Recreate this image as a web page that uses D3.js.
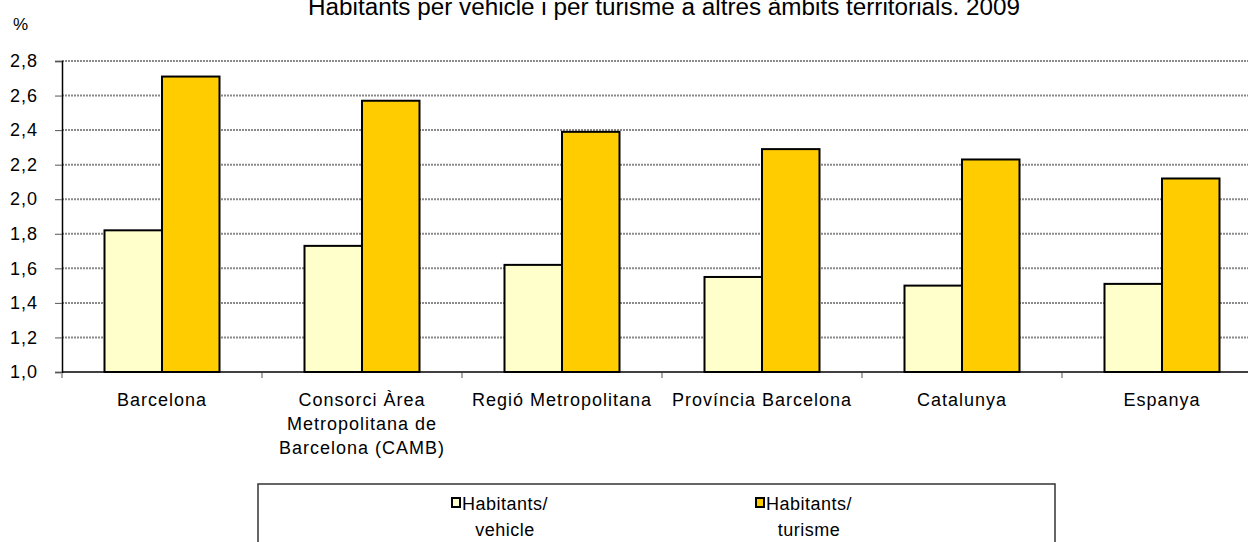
<!DOCTYPE html>
<html>
<head>
<meta charset="utf-8">
<script src="https://cdn.jsdelivr.net/npm/d3@7"></script>
<style>
  body { margin: 0; background: #fff; }
  svg { display: block; font-family: "Liberation Sans", Arial, sans-serif; }
</style>
</head>
<body>
<svg id="chart" width="1248" height="542"></svg>
<script>
var categories = ['Barcelona', 'Consorci Àrea Metropolitana de Barcelona (CAMB)', 'Regió Metropolitana',
  'Província Barcelona', 'Catalunya', 'Espanya'];
var seriesNames = ['Habitants/ vehicle', 'Habitants/ turisme'];
var perVehicle = [1.82, 1.73, 1.62, 1.55, 1.50, 1.51];
var perTurisme = [2.71, 2.57, 2.39, 2.29, 2.23, 2.12];
var yTicks = [1.0, 1.2, 1.4, 1.6, 1.8, 2.0, 2.2, 2.4, 2.6, 2.8];
var colors = ['#FFFFCC', '#FFCC00'];

var svg = d3.select('#chart');
var plotLeft = 62, plotRight = 1262, plotTop = 61, plotBottom = 372;

var x = d3.scaleBand().domain(categories).range([plotLeft, plotRight]).paddingInner(0.425).paddingOuter(0.2125);
var x1 = d3.scaleBand().domain([0, 1]).range([0, x.bandwidth()]);
var y = d3.scaleLinear().domain([1, 2.8]).range([plotBottom, plotTop]);
var fmt = function(v) { return d3.format('.1f')(v).replace('.', ','); };

// title and unit
svg.append('text').attr('x', 308).attr('y', 15).attr('font-size', 23).attr('textLength', 712)
  .attr('lengthAdjust', 'spacingAndGlyphs').attr('fill', '#000')
  .text('Habitants per vehicle i per turisme a altres àmbits territorials. 2009');
svg.append('text').attr('x', 13).attr('y', 30).attr('font-size', 17).text('%');

// grid
svg.append('g').selectAll('line').data(yTicks.slice(1)).enter().append('line')
  .attr('x1', plotLeft).attr('x2', plotRight)
  .attr('y1', function(d) { return y(d); }).attr('y2', function(d) { return y(d); })
  .attr('stroke', '#8a8a8a').attr('stroke-width', 2).attr('stroke-dasharray', '2,1');

// y axis
var yAxis = svg.append('g').attr('transform', 'translate(' + plotLeft + ',0)')
  .call(d3.axisLeft(y).tickValues(yTicks).tickFormat(fmt).tickSize(7).tickPadding(17));
yAxis.select('.domain').attr('stroke', '#000').attr('stroke-width', 1.5);
yAxis.selectAll('.tick line').attr('stroke', '#555');
yAxis.selectAll('text').attr('font-size', 18).attr('letter-spacing', 1).attr('fill', '#000')
  .attr('font-family', '"Liberation Sans", Arial, sans-serif');

// bars
var groups = svg.append('g').selectAll('g').data(categories).enter().append('g')
  .attr('transform', function(d) { return 'translate(' + x(d) + ',0)'; });
groups.selectAll('rect').data(function(d, i) { return [perVehicle[i], perTurisme[i]]; }).enter().append('rect')
  .attr('x', function(d, j) { return x1(j); })
  .attr('width', x1.bandwidth())
  .attr('y', function(d) { return y(d); })
  .attr('height', function(d) { return y(1) - y(d); })
  .attr('fill', function(d, j) { return colors[j]; })
  .attr('stroke', '#000').attr('stroke-width', 2);

// x axis
var xAxis = svg.append('g').attr('transform', 'translate(0,' + plotBottom + ')');
xAxis.append('line').attr('x1', plotLeft).attr('x2', plotRight).attr('stroke', '#000').attr('stroke-width', 1.5);
xAxis.selectAll('.tk').data(d3.range(categories.length + 1)).enter().append('line')
  .attr('x1', function(i) { return plotLeft + i * x.step(); })
  .attr('x2', function(i) { return plotLeft + i * x.step(); })
  .attr('y1', 1).attr('y2', 6).attr('stroke', '#aaa').attr('stroke-width', 2);

var labels = svg.append('g').selectAll('text').data(categories).enter().append('text')
  .attr('x', function(d) { return x(d) + x.bandwidth() / 2; })
  .attr('y', 406).attr('text-anchor', 'middle').attr('font-size', 18).attr('letter-spacing', 1);
labels.each(function(d) {
  var t = d3.select(this), words = d.split(' '), line = [];
  var ts = t.append('tspan').attr('x', t.attr('x')).attr('dy', 0);
  words.forEach(function(w) {
    line.push(w);
    ts.text(line.join(' '));
    if (ts.node().getComputedTextLength() > 195 && line.length > 1) {
      line.pop();
      ts.text(line.join(' '));
      line = [w];
      ts = t.append('tspan').attr('x', t.attr('x')).attr('dy', 24).text(w);
    }
  });
});

// legend
svg.append('rect').attr('x', 258).attr('y', 484).attr('width', 797).attr('height', 80)
  .attr('fill', 'none').attr('stroke', '#333').attr('stroke-width', 1.5);
var legendX = [452, 756];
var items = svg.append('g').selectAll('g').data(seriesNames).enter().append('g')
  .attr('transform', function(d, i) { return 'translate(' + legendX[i] + ',0)'; });
items.append('rect').attr('x', 0).attr('y', 498).attr('width', 8).attr('height', 9)
  .attr('fill', function(d, i) { return colors[i]; }).attr('stroke', '#000').attr('stroke-width', 2);
items.each(function(d) {
  var parts = d.split(' ');
  var t = d3.select(this).append('text').attr('font-size', 18).attr('letter-spacing', 0.5);
  t.append('tspan').attr('x', 10).attr('y', 510).text(parts[0]);
  var w = t.select('tspan').node().getComputedTextLength();
  t.append('tspan').attr('x', 10 + w / 2).attr('y', 536).attr('text-anchor', 'middle').text(parts[1]);
});
</script>
</body>
</html>
